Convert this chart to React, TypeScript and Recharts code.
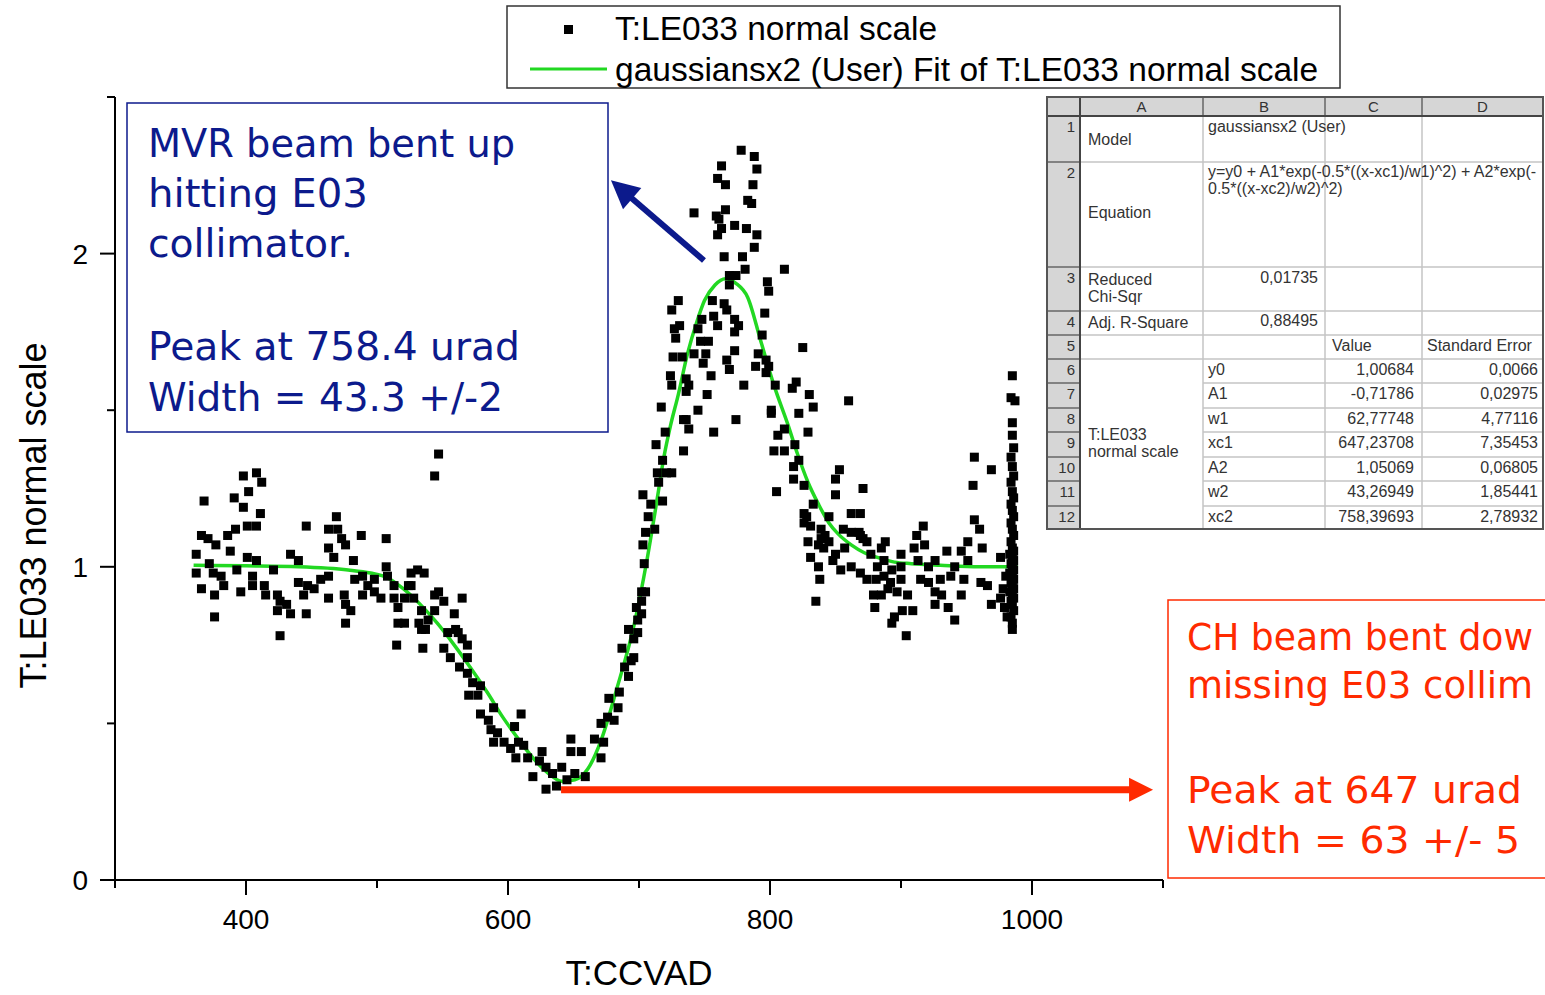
import React from "react"
import { ComposedChart, Scatter, Line, XAxis, YAxis, ReferenceLine } from "recharts"

const W = 1545
const H = 995

const xTicks = [300, 400, 500, 600, 700, 800, 900, 1000, 1100]
const xLabeled = [400, 600, 800, 1000]
const yTicks = [0, 0.5, 1, 1.5, 2, 2.5]
const yLabeled = [0, 1, 2]

// T:LE033 normal scale
const measured: [number, number][] = [
  [362, 1.04], [362, 0.98], [366, 1.1], [366, 0.93], [368, 1.21], [371, 1.09], [372, 1.01], [375, 0.98], [376, 0.91], [376, 0.84],
  [377, 1.07], [381, 0.97], [383, 0.94], [386, 1.1], [388, 1.05], [391, 1.22], [392, 1.12], [393, 0.99], [396, 0.92], [398, 1.29],
  [398, 1.19], [401, 1.13], [401, 1.03], [402, 1.24], [405, 0.97], [405, 0.94], [408, 1.3], [408, 1.13], [408, 1.02], [411, 1.17],
  [412, 1.27], [414, 0.94], [415, 0.91], [421, 0.99],
  [424, 0.91], [424, 0.86], [426, 0.89], [426, 0.78], [431, 0.88], [434, 1.04], [434, 0.85], [440, 1.02], [440, 0.95], [444, 0.91],
  [446, 1.13], [446, 0.85], [447, 0.94], [452, 0.93], [457, 0.96], [463, 1.12], [463, 1.06], [463, 0.97], [463, 0.9], [467, 1.03],
  [469, 1.16], [470, 1.12], [473, 1.09], [475, 0.91], [476, 1.07], [476, 0.88], [476, 0.82], [480, 0.86],
  [482, 1.02], [483, 0.96], [488, 1.1], [489, 0.97], [489, 0.91], [493, 0.94], [498, 0.96], [498, 0.92], [503, 0.9], [507, 1.09],
  [507, 1.0], [508, 0.97], [513, 0.94], [513, 0.9], [515, 0.75], [516, 0.87], [516, 0.82], [521, 0.9], [521, 0.82], [524, 0.94],
  [526, 0.98], [526, 0.94], [528, 0.9], [531, 0.99], [532, 0.82], [534, 0.86], [534, 0.8], [535, 0.74], [536, 0.98], [537, 0.8],
  [539, 0.83], [544, 1.29], [544, 0.91], [544, 0.86], [547, 1.36], [547, 0.92], [551, 0.89], [551, 0.74], [554, 0.79], [556, 0.71],
  [559, 0.85], [560, 0.8], [562, 0.79], [563, 0.68], [565, 0.9], [565, 0.77], [569, 0.75], [569, 0.71], [569, 0.66],
  [570, 0.59], [573, 0.63], [577, 0.59], [579, 0.62], [579, 0.53], [585, 0.51], [587, 0.48], [589, 0.55], [589, 0.44], [592, 0.47],
  [597, 0.44], [602, 0.42], [605, 0.49], [606, 0.39], [608, 0.44], [610, 0.53], [612, 0.43], [615, 0.39], [619, 0.33], [624, 0.38],
  [626, 0.41], [629, 0.36], [629, 0.29], [634, 0.34], [637, 0.3], [641, 0.36], [645, 0.32], [648, 0.45], [648, 0.41], [651, 0.34],
  [656, 0.41], [659, 0.33], [666, 0.45], [671, 0.39], [671, 0.5], [673, 0.44], [676, 0.52], [677, 0.58], [681, 0.51], [684, 0.55],
  [685, 0.6], [687, 0.74], [689, 0.68], [692, 0.65], [694, 0.7], [696, 0.71], [696, 0.77], [692, 0.8], [699, 0.83], [698, 0.87],
  [699, 0.79], [702, 0.85], [702, 0.89], [702, 0.92], [704, 1.01], [705, 0.92], [703, 1.07], [705, 1.11], [707, 1.16], [712, 1.12],
  [703, 1.23], [709, 1.2], [718, 1.21], [715, 1.27], [714, 1.3], [721, 1.3], [718, 1.34], [725, 1.3], [713, 1.39], [720, 1.43],
  [717, 1.51],
  [724, 1.61], [725, 1.58], [726, 1.67], [727, 1.76], [728, 1.73], [725, 1.82], [730, 1.85], [731, 1.77], [733, 1.67], [734, 1.37],
  [734, 1.47], [736, 1.6], [736, 1.56], [736, 1.47], [738, 1.44], [738, 1.58], [742, 1.68], [742, 2.13], [745, 1.76], [745, 1.5],
  [747, 1.72], [748, 1.79], [749, 1.65], [751, 1.68], [752, 1.55], [753, 1.72], [755, 1.61], [756, 1.85], [757, 1.43], [757, 1.8],
  [759, 2.12], [760, 2.24], [760, 2.06], [760, 1.77], [761, 2.11], [763, 2.28], [763, 2.08], [765, 1.99], [765, 1.84], [766, 2.22],
  [766, 2.14], [767, 1.82], [767, 1.66], [769, 1.93], [769, 1.9], [769, 1.63], [773, 2.09], [773, 1.79], [773, 1.75], [773, 1.69],
  [774, 1.93], [774, 1.47], [776, 1.77], [778, 2.33], [779, 1.99], [780, 1.58], [781, 1.95], [782, 2.08], [783, 2.17], [786, 2.16],
  [787, 2.22], [788, 2.31], [788, 2.02], [789, 1.64], [790, 2.27], [790, 2.06], [791, 1.68], [794, 1.74], [796, 1.81], [797, 1.62],
  [798, 1.91], [799, 1.88], [799, 1.64],
  [801, 1.49], [797, 1.66], [801, 1.5], [803, 1.37], [804, 1.58], [805, 1.24], [806, 1.42], [811, 1.95], [811, 1.44], [811, 1.37],
  [817, 1.57], [818, 1.32], [818, 1.28], [819, 1.39], [820, 1.59], [822, 1.49], [822, 1.34], [825, 1.7], [826, 1.26], [826, 1.14],
  [826, 1.17], [828, 1.16], [829, 1.43], [829, 1.08], [830, 1.55], [831, 1.13], [831, 1.03], [833, 1.51], [833, 1.2], [835, 0.89],
  [837, 1.07], [837, 1.0], [838, 0.96], [839, 1.12], [839, 1.09], [841, 1.06], [842, 1.1], [845, 1.16], [845, 1.08], [848, 1.02],
  [850, 1.28], [850, 1.23], [850, 1.04], [853, 1.31], [854, 0.99], [856, 1.12], [857, 1.06], [860, 1.53], [862, 1.17], [862, 1.11],
  [862, 1.0], [868, 1.11], [869, 1.17], [869, 1.1], [869, 0.98], [871, 1.25], [871, 1.09], [874, 1.08], [874, 0.96], [877, 1.04],
  [879, 0.91], [880, 0.87],
  [881, 0.96], [882, 1.0], [885, 1.06], [885, 0.91], [887, 1.02], [887, 0.97], [888, 1.08], [890, 0.93], [892, 0.95], [893, 0.99],
  [893, 0.82], [895, 0.84], [897, 0.92], [900, 1.04], [900, 1.0], [900, 0.96], [901, 0.86], [904, 0.78], [905, 0.91], [909, 0.86],
  [910, 1.06], [912, 1.1], [913, 1.02], [915, 0.96], [917, 1.13], [918, 1.07], [921, 1.0], [921, 0.95], [926, 1.02], [926, 0.92],
  [926, 0.88], [930, 0.96], [931, 0.91], [935, 1.05], [936, 0.87], [938, 0.97], [941, 1.0], [941, 0.83], [946, 1.05], [946, 0.91],
  [948, 0.96], [951, 1.08], [951, 1.02], [955, 1.26], [956, 1.35], [956, 1.15], [960, 1.12], [961, 0.95], [962, 1.06], [966, 0.94],
  [969, 1.31], [969, 0.88], [976, 1.03], [976, 0.9], [978, 0.93], [979, 0.87], [980, 0.97], [981, 0.84],
  [985, 1.61], [984, 1.54], [987, 1.53], [985, 1.46], [985, 1.42], [986, 1.38], [984, 1.35], [985, 1.32], [986, 1.29], [984, 1.27],
  [985, 1.24], [986, 1.22], [984, 1.2], [985, 1.18], [986, 1.16], [984, 1.14], [985, 1.12], [986, 1.1], [984, 1.08], [985, 1.06],
  [986, 1.05], [983, 1.04], [985, 1.03], [986, 1.02], [984, 1.01], [985, 1.0], [986, 0.99], [983, 0.98], [985, 0.97], [986, 0.96],
  [984, 0.95], [985, 0.94], [986, 0.93], [983, 0.92], [985, 0.91], [986, 0.9], [984, 0.89], [985, 0.88], [986, 0.86], [984, 0.84],
  [985, 0.82], [985, 0.8],
]

// gaussiansx2 fit curve
const fitCurve: [number, number][] = [
  [360, 1.005], [400, 1.003], [440, 1.0], [478, 0.99], [495, 0.98], [508, 0.965], [520, 0.93], [533, 0.88], [546, 0.82], [559, 0.75],
  [571, 0.68], [584, 0.6], [596, 0.52], [608, 0.45], [620, 0.385], [631, 0.34], [641, 0.315], [651, 0.32], [661, 0.355], [671, 0.445],
  [683, 0.61], [696, 0.81], [706, 1.02], [714, 1.22], [719, 1.35], [724, 1.45], [730, 1.55], [737, 1.68], [744, 1.78], [750, 1.85],
  [758, 1.9], [766, 1.92], [774, 1.905], [783, 1.86], [793, 1.72], [803, 1.58], [814, 1.45], [821, 1.36], [829, 1.27], [837, 1.2],
  [845, 1.14], [852, 1.105], [862, 1.07], [872, 1.045], [882, 1.03], [895, 1.015], [908, 1.01], [930, 1.005], [960, 1.0], [989, 1.0],
]

const mvrArrow = [{ x: 749.6, y: 1.978 }, { x: 678.6, y: 2.234 }]
const chArrow = [{ x: 640.5, y: 0.288 }, { x: 1092.4, y: 0.288 }]

const mvrLines = ["MVR beam bent up", "hitting E03", "collimator.", "", "Peak at 758.4 urad", "Width = 43.3 +/-2"]
// the right-hand box runs off the page in the original, only the visible part is kept
const chLines = ["CH beam bent dow", "missing E03 collim", "", "Peak at 647 urad", "Width = 63 +/- 5"]

const tableCols = ["A", "B", "C", "D"]
const paramNames = ["y0", "A1", "w1", "xc1", "A2", "w2", "xc2"]
const paramValues = ["1,00684", "-0,71786", "62,77748", "647,23708", "1,05069", "43,26949", "758,39693"]
const paramErrors = ["0,0066", "0,02975", "4,77116", "7,35453", "0,06805", "1,85441", "2,78932"]

const points = measured.map(([x, y]) => ({ x, y }))
const fit = fitCurve.map(([x, y]) => ({ x, y }))

const NAVY = "#0c1a8c"
const RED = "#ff2a00"
const GREEN = "#22d822"
const SANS = "Liberation Sans, Arial, sans-serif"
const HAND = "DejaVu Sans, sans-serif"

const square = (p: any) => <rect x={p.cx - 4.5} y={p.cy - 4.5} width={9} height={9} fill="#000" />

const arrow = (color: string, width: number, head: number) => (p: any) => {
  const { x1, y1, x2, y2 } = p
  const len = Math.hypot(x2 - x1, y2 - y1)
  const ux = (x2 - x1) / len
  const uy = (y2 - y1) / len
  const bx = x2 - ux * head
  const by = y2 - uy * head
  const hw = head * 0.5
  return (
    <g>
      <line x1={x1} y1={y1} x2={bx + ux} y2={by + uy} stroke={color} strokeWidth={width} />
      <polygon
        points={`${x2},${y2} ${bx - uy * hw},${by + ux * hw} ${bx + uy * hw},${by - ux * hw}`}
        fill={color}
      />
    </g>
  )
}

const XTick = (props: any) => {
  const { x, y, payload } = props
  const major = xLabeled.includes(payload.value)
  return (
    <g>
      <line x1={x} x2={x} y1={y} y2={y + (major ? 15 : 8)} stroke="#000" strokeWidth={2} />
      {major && (
        <text x={x} y={y + 49} textAnchor="middle" fontSize={28} fontFamily={SANS} fill="#000">
          {payload.value}
        </text>
      )}
    </g>
  )
}

const YTick = (props: any) => {
  const { x, y, payload } = props
  const major = yLabeled.includes(payload.value)
  return (
    <g>
      <line x1={x - (major ? 15 : 8)} x2={x} y1={y} y2={y} stroke="#000" strokeWidth={2} />
      {major && (
        <text x={x - 27} y={y + 10} textAnchor="end" fontSize={28} fontFamily={SANS} fill="#000">
          {payload.value}
        </text>
      )}
    </g>
  )
}

function Table() {
  const cols = [1047, 1080, 1203, 1325, 1422, 1543]
  const rows = [97, 116, 162, 267, 311, 335, 359, 383, 408, 432, 457, 481, 506, 529]
  const light = "#c4c4c4"
  const dark = "#666"
  const txt = { fontSize: 16, fontFamily: SANS, fill: "#333" }
  return (
    <g>
      <rect x={cols[0]} y={rows[0]} width={cols[5] - cols[0]} height={rows[13] - rows[0]} fill="#fff" />
      <rect x={cols[0]} y={rows[0]} width={cols[5] - cols[0]} height={rows[1] - rows[0]} fill="#d6d6d6" />
      <rect x={cols[0]} y={rows[0]} width={cols[1] - cols[0]} height={rows[13] - rows[0]} fill="#d6d6d6" />
      {[2, 3, 4].map((c) => (
        <line key={c} x1={cols[c]} x2={cols[c]} y1={rows[1]} y2={rows[13]} stroke={light} strokeWidth={1.5} />
      ))}
      {rows.slice(2, 13).map((r, i) => (
        <line key={r} x1={i < 5 ? cols[1] : cols[2]} x2={cols[5]} y1={r} y2={r} stroke={light} strokeWidth={1.5} />
      ))}
      {rows.slice(2, 13).map((r) => (
        <line key={"n" + r} x1={cols[0]} x2={cols[1]} y1={r} y2={r} stroke={dark} strokeWidth={1.5} />
      ))}
      {[2, 3, 4].map((c) => (
        <line key={"h" + c} x1={cols[c]} x2={cols[c]} y1={rows[0]} y2={rows[1]} stroke={dark} strokeWidth={1.5} />
      ))}
      <line x1={cols[0]} x2={cols[5]} y1={rows[1]} y2={rows[1]} stroke="#444" strokeWidth={2} />
      <line x1={cols[1]} x2={cols[1]} y1={rows[0]} y2={rows[13]} stroke="#444" strokeWidth={2} />
      <rect x={cols[0]} y={rows[0]} width={cols[5] - cols[0]} height={rows[13] - rows[0]} fill="none" stroke="#555" strokeWidth={2} />
      {tableCols.map((c, i) => (
        <text key={c} x={(cols[i + 1] + cols[i + 2]) / 2} y={112} textAnchor="middle" {...txt} fontSize={15}>
          {c}
        </text>
      ))}
      {rows.slice(1, 13).map((r, i) => (
        <text key={"rn" + i} x={1075} y={r + 16} textAnchor="end" {...txt} fontSize={15}>
          {i + 1}
        </text>
      ))}
      <text x={1088} y={145} {...txt}>Model</text>
      <text x={1208} y={132} {...txt}>gaussiansx2 (User)</text>
      <text x={1088} y={218} {...txt}>Equation</text>
      <text x={1208} y={177} {...txt}>y=y0 + A1*exp(-0.5*((x-xc1)/w1)^2) + A2*exp(-</text>
      <text x={1208} y={194} {...txt}>0.5*((x-xc2)/w2)^2)</text>
      <text x={1088} y={285} {...txt}>Reduced</text>
      <text x={1088} y={302} {...txt}>Chi-Sqr</text>
      <text x={1318} y={283} textAnchor="end" {...txt}>0,01735</text>
      <text x={1088} y={328} {...txt}>Adj. R-Square</text>
      <text x={1318} y={326} textAnchor="end" {...txt}>0,88495</text>
      <text x={1332} y={351} {...txt}>Value</text>
      <text x={1427} y={351} {...txt}>Standard Error</text>
      <text x={1088} y={440} {...txt}>T:LE033</text>
      <text x={1088} y={457} {...txt}>normal scale</text>
      {paramNames.map((n, i) => (
        <g key={n}>
          <text x={1208} y={rows[6 + i] + 16} {...txt}>{n}</text>
          <text x={1414} y={rows[6 + i] + 16} textAnchor="end" {...txt}>{paramValues[i]}</text>
          <text x={1538} y={rows[6 + i] + 16} textAnchor="end" {...txt}>{paramErrors[i]}</text>
        </g>
      ))}
    </g>
  )
}

function Overlay() {
  const mvrBase = [157, 207, 257, 308, 360, 411]
  const mvrWidth = [367, 220, 205, 0, 372, 355]
  const chBase = [650, 698, 750, 803, 853]
  const chWidth = [346, 346, 0, 335, 333]
  return (
    <svg width={W} height={H} style={{ position: "absolute", left: 0, top: 0, pointerEvents: "none" }}>
      {/* legend */}
      <rect x={507} y={6} width={833} height={82} fill="#fff" stroke="#333" strokeWidth={1.5} />
      <rect x={564} y={25} width={9} height={9} fill="#000" />
      <text x={615} y={40} fontSize={33.5} fontFamily={SANS} fill="#000">T:LE033 normal scale</text>
      <line x1={530} x2={607} y1={69} y2={69} stroke={GREEN} strokeWidth={3} />
      <text x={615} y={81} fontSize={33.5} fontFamily={SANS} fill="#000">
        gaussiansx2 (User) Fit of T:LE033 normal scale
      </text>

      <Table />

      {/* MVR annotation */}
      <rect x={127} y={103} width={481} height={329} fill="#fff" stroke={NAVY} strokeWidth={1.5} />
      {mvrLines.map((t, i) =>
        t ? (
          <text key={i} x={148} y={mvrBase[i]} fontSize={39} fontFamily={HAND} fill={NAVY}
            textLength={mvrWidth[i]} lengthAdjust="spacingAndGlyphs">
            {t}
          </text>
        ) : null
      )}

      {/* CH annotation */}
      <rect x={1168} y={600} width={420} height={278} fill="#fff" stroke={RED} strokeWidth={1.5} />
      {chLines.map((t, i) =>
        t ? (
          <text key={i} x={1187} y={chBase[i]} fontSize={38} fontFamily={HAND} fill={RED}
            textLength={chWidth[i]} lengthAdjust="spacingAndGlyphs">
            {t}
          </text>
        ) : null
      )}
    </svg>
  )
}

export default function App() {
  return (
    <div style={{ position: "absolute", left: 0, top: 0, width: W, height: H, background: "#fff", overflow: "hidden" }}>
      <ComposedChart width={W} height={H} margin={{ top: 97, right: 382, bottom: 5, left: 55 }}>
        <XAxis
          type="number"
          dataKey="x"
          domain={[300, 1100]}
          ticks={xTicks}
          interval={0}
          height={110}
          tickSize={0}
          tickMargin={0}
          tick={<XTick />}
          axisLine={{ stroke: "#000", strokeWidth: 2 }}
          label={{ value: "T:CCVAD", position: "insideBottom", offset: 5, fontSize: 35, fill: "#000", fontFamily: SANS }}
        />
        <YAxis
          type="number"
          dataKey="y"
          domain={[0, 2.5]}
          ticks={yTicks}
          interval={0}
          width={60}
          tickSize={0}
          tickMargin={0}
          tick={<YTick />}
          axisLine={{ stroke: "#000", strokeWidth: 2 }}
          label={{
            value: "T:LE033 normal scale",
            angle: -90,
            position: "left",
            offset: 22,
            dy: 27,
            fontSize: 36,
            fill: "#000",
            fontFamily: SANS,
            style: { textAnchor: "middle" },
          }}
        />
        <Scatter data={points} dataKey="y" shape={square} isAnimationActive={false} />
        <Line data={fit} dataKey="y" type="monotone" stroke={GREEN} strokeWidth={3.5} dot={false} isAnimationActive={false} />
        <ReferenceLine segment={mvrArrow} shape={arrow(NAVY, 6, 28)} />
        <ReferenceLine segment={chArrow} shape={arrow(RED, 7, 24)} />
      </ComposedChart>
      <Overlay />
    </div>
  )
}
